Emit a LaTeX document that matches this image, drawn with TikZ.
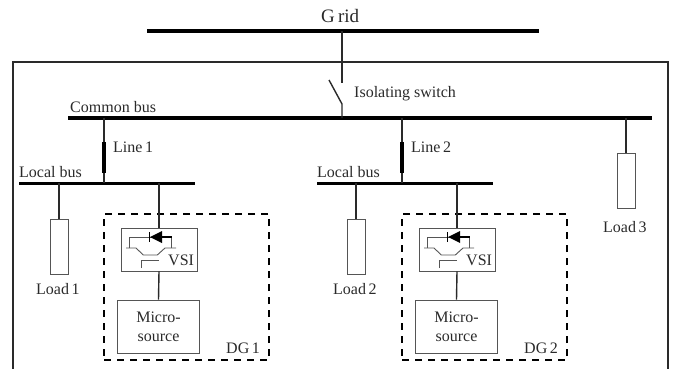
\documentclass[tikz,border=0pt]{standalone}
\usepackage{fontspec}
\setmainfont{Liberation Serif}
\definecolor{ink}{HTML}{2A2A2A}
\definecolor{thin}{HTML}{555555}
\tikzset{
  x=1pt,y=-1pt,
  every node/.style={font=\fontsize{16}{18}\selectfont,text=ink},
  lab/.style={inner sep=0pt,anchor=base west},
  busbar/.style={draw=none,fill=black,inner sep=0pt,minimum height=#1},
  busbar/.default=3.5pt,
  conn/.style={draw=ink,line width=1.4pt},
  frameline/.style={draw=ink,line width=1.2pt},
  loadbox/.style={draw=thin,line width=.8pt,inner sep=0pt,minimum width=18pt,minimum height=55pt},
  vsibox/.style={draw=thin,line width=.9pt,inner sep=0pt,minimum width=76pt,minimum height=43pt},
  msbox/.style={draw=thin,line width=.9pt,inner sep=0pt,minimum width=82pt,minimum height=53pt,align=center},
  dgbox/.style={draw=black,line width=1.6pt,dash pattern=on 7pt off 6pt,inner sep=0pt,minimum width=165pt,minimum height=146pt},
  thickline/.style={draw=black,line width=3.6pt},
  sw/.style={draw=thin,line width=.9pt},
}
\newcommand{\dgunit}[3]{% #1 offset, #2 suffix, #3 label
  \begin{scope}[shift={(#1,0)}]
    \node[dgbox] (dg#2) at (186.5,287) {};
    \node[vsibox] (vsi#2) at (159,249.5) {};
    \node[msbox] (ms#2) at (158.5,326.5) {Micro-\\[1pt]source};
    \coordinate (lbt#2) at (159,183);
    \draw[conn] (lbt#2) -- (vsi#2.north);
    \draw[conn] (vsi#2.south) -- (ms#2.north);
    \node[lab] at (226,353) {#3};
    \node[lab] at (168,265.5) {VSI};
    % IGBT symbol
    \draw[sw] (129.3,248) -- (129.3,237.3) -- (171.7,237.3) -- (171.7,248);
    \draw[sw] (126,248) -- (136,248) -- (143.3,255) -- (157.3,255) -- (165,248) -- (176,248);
    \draw[sw] (141.7,268) -- (141.7,260.7) -- (159.3,260.7);
    \draw[black,line width=1pt] (149.5,232) -- (149.5,242);
    \fill[black] (150,237) -- (162,231) -- (162,243) -- cycle;
    \draw[black,line width=2.8pt] (160,237) -- (172,237);
  \end{scope}
}
\begin{document}
\begin{tikzpicture}
\useasboundingbox (0,0) rectangle (680,369);
% outer frame
\coordinate (fa) at (13,369); \coordinate (fb) at (13,62); \coordinate (fc) at (668,62); \coordinate (fd) at (668,369);
\draw[frameline] (fa) -- (fb) -- (fc) -- (fd);
% buses
\node[busbar=4.5pt,minimum width=392pt] (grid) at (343,31) {};
\node[busbar=3.5pt,minimum width=584pt] (cbus) at (360,118) {};
\node[busbar=3pt,minimum width=176pt] (lb1) at (107,183) {};
\node[busbar=3pt,minimum width=176pt] (lb2) at (405,183) {};
% labels
\node[lab,font=\fontsize{19}{21}\selectfont] at (321,23) {G\,rid};
\node[lab] at (354,97) {Isolating switch};
\node[lab] at (70,112) {Common bus};
\node[lab] at (19,177) {Local bus};
\node[lab] at (317,177) {Local bus};
\node[lab] at (113,152) {Line\,1};
\node[lab] at (411,152) {Line\,2};
% switch
\coordinate (swa) at (342,83); \coordinate (swb) at (342,104); \coordinate (swc) at (329,80);
\draw[conn] (grid.center -| swa) -- (swa);
\draw[conn] (swc) -- (swb) -- (swb |- cbus);
% lines
\coordinate (l1a) at (104,118); \coordinate (l1b) at (104,183);
\coordinate (l1c) at (104,142); \coordinate (l1d) at (104,173);
\draw[conn] (l1a) -- (l1b);
\draw[thickline] (l1c) -- (l1d);
\coordinate (l2a) at (402,118); \coordinate (l2b) at (402,183);
\coordinate (l2c) at (402,142); \coordinate (l2d) at (402,173);
\draw[conn] (l2a) -- (l2b);
\draw[thickline] (l2c) -- (l2d);
% loads
\node[loadbox] (load1) at (59,246.5) {};
\node[loadbox] (load2) at (356,246.5) {};
\node[loadbox] (load3) at (626,180.5) {};
\node[lab] at (36,294) {Load\,1};
\node[lab] at (333,294) {Load\,2};
\node[lab] at (603,232) {Load\,3};
\draw[conn] (load1.north) -- (load1.north |- lb1);
\draw[conn] (load2.north) -- (load2.north |- lb2);
\draw[conn] (load3.north) -- (load3.north |- cbus);
% DG units
\dgunit{0}{a}{DG\,1}
\dgunit{298}{b}{DG\,2}
\end{tikzpicture}
\end{document}
